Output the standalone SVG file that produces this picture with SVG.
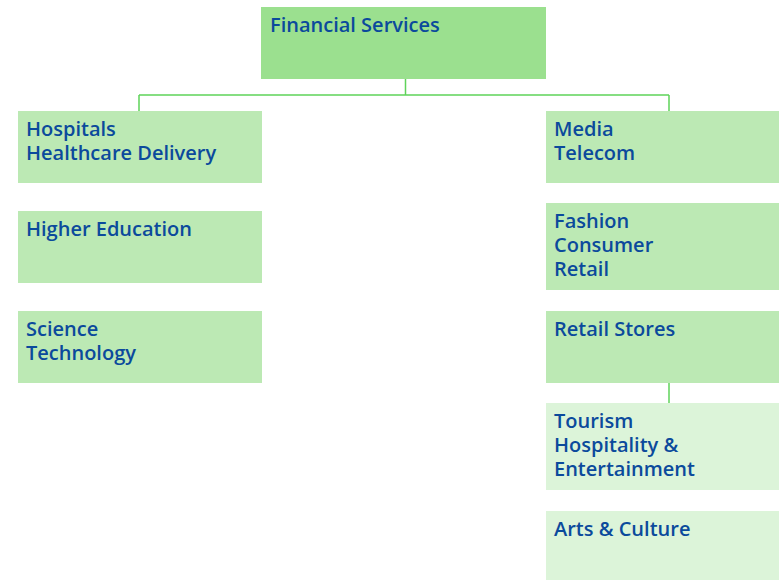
<svg xmlns="http://www.w3.org/2000/svg" width="779" height="580" viewBox="0 0 779 580">
  <style>
    .box-top { fill: #9be08f; }
    .box { fill: #bce9b4; }
    .box-light { fill: #dcf4d9; }
    .label { font-family: "Open Sans", "Liberation Sans", sans-serif; font-size: 20px; font-weight: 600; fill: #0b4a9c; }
    .link { stroke: #5fd35a; stroke-width: 1.5; fill: none; }
  </style>

  <g id="connectors">
    <path class="link" d="M405.5 79 V95 M139 95 H669 M139 95 V111 M669 95 V111"/>
    <path class="link" d="M669 383 V403"/>
  </g>

  <g id="financial-services">
    <rect class="box-top" x="261" y="7" width="285" height="72"/>
    <text class="label" x="270" y="32">Financial Services</text>
  </g>

  <g id="hospitals">
    <rect class="box" x="18" y="111" width="244" height="72"/>
    <text class="label" x="26" y="136">Hospitals<tspan x="26" dy="24">Healthcare Delivery</tspan></text>
  </g>

  <g id="higher-education">
    <rect class="box" x="18" y="211" width="244" height="72"/>
    <text class="label" x="26" y="236">Higher Education</text>
  </g>

  <g id="science">
    <rect class="box" x="18" y="311" width="244" height="72"/>
    <text class="label" x="26" y="336">Science<tspan x="26" dy="24">Technology</tspan></text>
  </g>

  <g id="media">
    <rect class="box" x="546" y="111" width="233" height="72"/>
    <text class="label" x="554" y="136">Media<tspan x="554" dy="24">Telecom</tspan></text>
  </g>

  <g id="fashion">
    <rect class="box" x="546" y="203" width="233" height="87"/>
    <text class="label" x="554" y="228">Fashion<tspan x="554" dy="24">Consumer</tspan><tspan x="554" dy="24">Retail</tspan></text>
  </g>

  <g id="retail-stores">
    <rect class="box" x="546" y="311" width="233" height="72"/>
    <text class="label" x="554" y="336">Retail Stores</text>
  </g>

  <g id="tourism">
    <rect class="box-light" x="546" y="403" width="233" height="87"/>
    <text class="label" x="554" y="428">Tourism<tspan x="554" dy="24">Hospitality &amp;</tspan><tspan x="554" dy="24">Entertainment</tspan></text>
  </g>

  <g id="arts-culture">
    <rect class="box-light" x="546" y="511" width="233" height="69"/>
    <text class="label" x="554" y="536">Arts &amp; Culture</text>
  </g>
</svg>
